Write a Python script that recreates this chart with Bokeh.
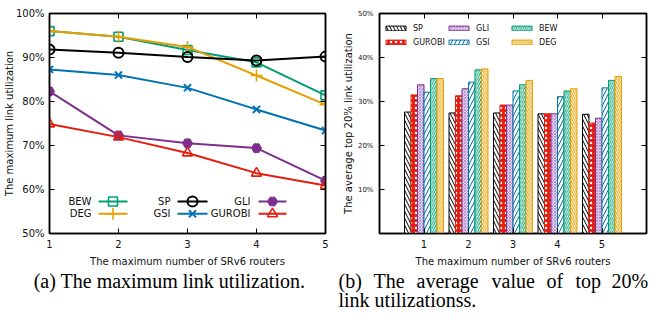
import math
from bokeh.plotting import figure
from bokeh.models import (FixedTicker, LinearAxis, PrintfTickFormatter, Label,
                          Legend, LegendItem, ColumnDataSource, CustomJSTickFormatter)
from bokeh.transform import dodge
from bokeh.layouts import row, column
from bokeh.embed import file_html
from bokeh.resources import INLINE

# ---------------- data ----------------
routers = [1, 2, 3, 4, 5]

# (a) maximum link utilization (%)
max_bew = [96.0, 94.7, 91.7, 88.9, 81.4]
max_deg = [96.0, 94.7, 92.4, 85.9, 79.3]
max_sp = [91.8, 91.1, 90.1, 89.3, 90.2]
max_gsi = [87.3, 86.0, 83.1, 78.2, 73.4]
max_gli = [82.3, 72.3, 70.5, 69.4, 62.0]
max_gurobi = [74.9, 71.9, 68.3, 63.7, 60.9]

# (b) average of top 20% link utilization (%)
top_sp = [27.6, 27.4, 27.4, 27.2, 27.1]
top_gurobi = [31.5, 31.3, 29.2, 27.2, 25.1]
top_gli = [33.8, 32.9, 29.2, 27.2, 26.2]
top_gsi = [32.1, 34.4, 32.4, 31.1, 33.1]
top_bew = [35.2, 37.2, 33.8, 32.4, 34.8]
top_deg = [35.2, 37.4, 34.8, 32.9, 35.7]

left_yticks = [50, 60, 70, 80, 90, 100]
right_yticks = [10, 20, 30, 40, 50]

xlabel = "The maximum number of SRv6 routers"
ylabel_a = "The maximum link utilization"
ylabel_b = "The average top 20% link utilization"
caption_a = "(a) The maximum link utilization."
caption_b1 = ["(b)", "The", "average", "value", "of", "top", "20%"]
caption_b2 = "link utilizationss."

# ---------------- style ----------------
GREEN = "#009e73"
ORANGE = "#e69f00"
BLACK = "#000000"
BLUE = "#0072b2"
PURPLE = "#7e2f8e"
RED = "#e51e10"
FONT = "DejaVu Sans"
SERIF = "Liberation Serif"
TXT = "#111111"

FIG_H = 270
TOP = 13
FRAME_H = 220
BOTTOM = FIG_H - TOP - FRAME_H
CAP_H = 311 - FIG_H
BLANK = CustomJSTickFormatter(code="return ''")


def style_axes(p, xticks, yticks, ytick_size, ystand, ylabel, ylab_stand):
    bottom = p.below[0]
    left = p.left[0]
    bottom.ticker = FixedTicker(ticks=xticks)
    left.ticker = FixedTicker(ticks=yticks)
    left.formatter = PrintfTickFormatter(format="%d%%")
    top_ax = LinearAxis(ticker=FixedTicker(ticks=xticks), formatter=BLANK,
                        major_label_text_font_size="1px", major_label_standoff=0)
    right_ax = LinearAxis(ticker=FixedTicker(ticks=yticks), formatter=BLANK,
                          major_label_text_font_size="1px", major_label_standoff=0)
    p.add_layout(top_ax, "above")
    p.add_layout(right_ax, "right")
    for ax in [bottom, left, top_ax, right_ax]:
        ax.major_tick_in = 5
        ax.major_tick_out = 0
        ax.minor_tick_line_color = None
        ax.axis_line_width = 1.5
        ax.axis_line_color = "black"
        ax.major_tick_line_color = "black"
        ax.major_tick_line_width = 1
        ax.major_label_text_font = FONT
        ax.major_label_text_color = TXT
    for ax in [bottom, left]:
        ax.axis_label_text_font = FONT
        ax.axis_label_text_font_style = "normal"
        ax.axis_label_text_font_size = "10px"
        ax.axis_label_text_color = TXT
    bottom.major_label_text_font_size = "10px"
    bottom.major_label_standoff = 6
    bottom.axis_label = xlabel
    bottom.axis_label_standoff = 5
    left.major_label_text_font_size = ytick_size
    left.major_label_standoff = ystand
    left.axis_label = ylabel
    left.axis_label_standoff = ylab_stand
    p.outline_line_color = "black"
    p.outline_line_width = 1.5
    p.grid.visible = False
    p.background_fill_color = "white"
    p.border_fill_color = "white"


# ================= (a) =================
A_W = 328
A_LEFT = 49
A_FRAME_W = 276
pa = figure(width=A_W, height=FIG_H, x_range=(1, 5), y_range=(50, 100),
            output_backend="svg", toolbar_location=None,
            min_border_left=A_LEFT, min_border_right=A_W - A_LEFT - A_FRAME_W,
            min_border_top=TOP, min_border_bottom=BOTTOM)
style_axes(pa, routers, left_yticks, "10px", 5, ylabel_a, -2)

# pixel -> data helpers for the legend layout of (a)
ax_px = A_FRAME_W / 4.0
ay_px = FRAME_H / 50.0
def a_x(px):
    return 1 + (px - A_LEFT) / ax_px
def a_y(py):
    return 50 + (TOP + FRAME_H - py) / ay_px

series_a = [
    ("BEW", max_bew, GREEN, dict(marker="square", size=9, fill_color=None, line_width=1.6)),
    ("DEG", max_deg, ORANGE, dict(marker="cross", size=12, line_width=1.6)),
    ("SP", max_sp, BLACK, dict(marker="circle", size=10, fill_color=None, line_width=2)),
    ("GSI", max_gsi, BLUE, dict(marker="x", size=10, line_width=2)),
    ("GLI", max_gli, PURPLE, dict(marker="hex", size=10, fill_color=PURPLE, line_width=1)),
    ("GUROBI", max_gurobi, RED, dict(marker="triangle", size=10, fill_color=None, line_width=1.6)),
]

leg_rows = [a_y(201), a_y(213.3)]
leg_cols = [(91, 98, 127), (170, 177, 207), (250, 258, 286)]

for i, (name, vals, col, mk) in enumerate(series_a):
    pa.line(routers, vals, line_color=col, line_width=2)
    pa.scatter(routers, vals, line_color=col, **mk)
    c, r = divmod(i, 2)
    tx, l0, l1 = leg_cols[c]
    yy = leg_rows[r]
    pa.add_layout(Label(x=a_x(tx), y=yy, text=name, text_align="right",
                        text_baseline="middle", text_font=FONT, text_font_size="10px",
                        text_color=TXT))
    pa.line([a_x(l0), a_x(l1)], [yy, yy], line_color=col, line_width=2)
    pa.scatter([a_x((l0 + l1) / 2)], [yy], line_color=col, **mk)

# ================= (b) =================
B_W = 320
B_LEFT = 51
B_FRAME_W = 267
pb = figure(width=B_W, height=FIG_H, x_range=(0, 6), y_range=(0, 50),
            output_backend="svg", toolbar_location=None,
            min_border_left=B_LEFT, min_border_right=B_W - B_LEFT - B_FRAME_W,
            min_border_top=TOP, min_border_bottom=BOTTOM)
style_axes(pb, routers, right_yticks, "7px", 6, ylabel_b, 1)

src = ColumnDataSource(dict(x=routers, SP=top_sp, GUROBI=top_gurobi, GLI=top_gli,
                            GSI=top_gsi, BEW=top_bew, DEG=top_deg))
BW = 0.146
bar_styles = [
    ("SP", BLACK, dict(fill_color="white", hatch_pattern="\\", hatch_color=BLACK, hatch_scale=7, hatch_weight=1)),
    ("GUROBI", RED, dict(fill_color=RED, hatch_pattern=".", hatch_color="white", hatch_scale=5, hatch_weight=1)),
    ("GLI", PURPLE, dict(fill_color="#e4d3ee", hatch_pattern="x", hatch_color="#a070c0", hatch_scale=3, hatch_weight=0.6)),
    ("GSI", BLUE, dict(fill_color="white", hatch_pattern="/", hatch_color=BLUE, hatch_scale=8, hatch_weight=1)),
    ("BEW", GREEN, dict(fill_color="white", hatch_pattern="/", hatch_color=GREEN, hatch_scale=4.5, hatch_weight=1)),
    ("DEG", ORANGE, dict(fill_color="white", hatch_pattern="\\", hatch_color=ORANGE, hatch_scale=4.5, hatch_weight=1)),
]
items = []
for i, (name, col, st) in enumerate(bar_styles):
    r = pb.vbar(x=dodge("x", (i - 2.5) * BW, range=pb.x_range), top=name, bottom=0,
                width=BW, source=src, line_color=col, line_width=1, **st)
    items.append(LegendItem(label=name, renderers=[r]))

leg = Legend(items=items, location=(0, 180), orientation="vertical", nrows=2,
             glyph_width=25, glyph_height=6, label_height=14, label_width=33,
             label_standoff=5, spacing=0, padding=4, margin=0,
             label_text_font=FONT, label_text_font_size="8px", label_text_color=TXT,
             border_line_alpha=0, background_fill_alpha=0)
pb.add_layout(leg, "center")

# ================= captions =================
CAP_W = A_W + B_W
pc = figure(width=CAP_W, height=CAP_H, x_range=(0, CAP_W), y_range=(0, CAP_H),
            x_axis_location=None, y_axis_location=None, min_border=0,
            outline_line_color=None, toolbar_location=None, output_backend="svg")
pc.grid.visible = False
CAP_SHIFT = 7  # measured offset between requested and rendered baseline
CAP_FONT = "20px"
def c_y(py):
    return FIG_H + CAP_H - (py - CAP_SHIFT)

LINE1 = 287
LINE2 = 306
pc.add_layout(Label(x=169, y=c_y(LINE1), text=caption_a, text_align="center",
                    text_baseline="alphabetic", text_font=SERIF, text_font_size=CAP_FONT,
                    text_color="black"))
word_px = [338, 373, 416, 491, 546, 575, 611]
for w, px in zip(caption_b1, word_px):
    pc.add_layout(Label(x=px, y=c_y(LINE1), text=w, text_align="left",
                        text_baseline="alphabetic", text_font=SERIF, text_font_size=CAP_FONT,
                        text_color="black"))
pc.add_layout(Label(x=338, y=c_y(LINE2), text=caption_b2, text_align="left",
                    text_baseline="alphabetic", text_font=SERIF, text_font_size=CAP_FONT,
                    text_color="black"))

layout = column(row(pa, pb, spacing=0), pc, spacing=0)
open("out.html", "w").write(file_html(layout, INLINE))
